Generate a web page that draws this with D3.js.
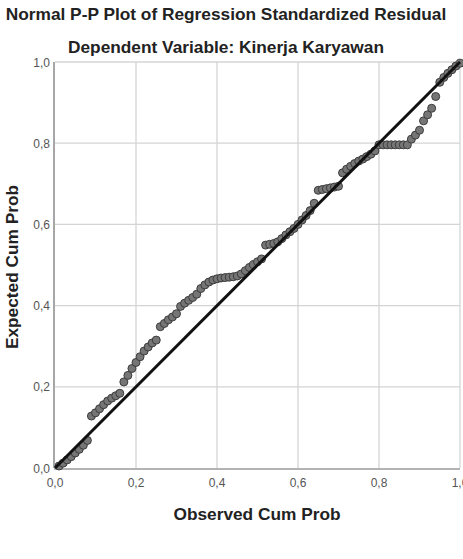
<!DOCTYPE html>
<html>
<head>
<meta charset="utf-8">
<script src="https://cdn.jsdelivr.net/npm/d3@7"></script>
<style>
  body { margin: 0; background: #fff; }
  svg { display: block; }
</style>
</head>
<body>
<div id="chart"></div>
<script>
// chart texts
let title = "Normal P-P Plot of Regression Standardized Residual"
let subtitle = "Dependent Variable: Kinerja Karyawan"
let xTitle = "Observed Cum Prob"
let yTitle = "Expected Cum Prob"
let tickValues = [0, 0.2, 0.4, 0.6, 0.8, 1.0]
let tickLabels = ["0,0", "0,2", "0,4", "0,6", "0,8", "1,0"]

// observed cumulative probability of each residual
let observed = [
  0.01, 0.02, 0.03, 0.04, 0.05, 0.06, 0.07, 0.08, 0.09, 0.10,
  0.11, 0.12, 0.13, 0.14, 0.15, 0.16, 0.17, 0.18, 0.19, 0.20,
  0.21, 0.22, 0.23, 0.24, 0.25, 0.26, 0.27, 0.28, 0.29, 0.30,
  0.31, 0.32, 0.33, 0.34, 0.35, 0.36, 0.37, 0.38, 0.39, 0.40,
  0.41, 0.42, 0.43, 0.44, 0.45, 0.46, 0.47, 0.48, 0.49, 0.50,
  0.51, 0.52, 0.53, 0.54, 0.55, 0.56, 0.57, 0.58, 0.59, 0.60,
  0.61, 0.62, 0.63, 0.64, 0.65, 0.66, 0.67, 0.68, 0.69, 0.70,
  0.71, 0.72, 0.73, 0.74, 0.75, 0.76, 0.77, 0.78, 0.79, 0.80,
  0.81, 0.82, 0.83, 0.84, 0.85, 0.86, 0.87, 0.88, 0.89, 0.90,
  0.91, 0.92, 0.93, 0.94, 0.95, 0.96, 0.97, 0.98, 0.99, 1.00
]

// expected cumulative probability
let expected = [
  0.005, 0.012, 0.020, 0.028, 0.037, 0.046, 0.056, 0.068, 0.128, 0.136,
  0.146, 0.156, 0.165, 0.172, 0.178, 0.184, 0.212, 0.228, 0.245, 0.260,
  0.274, 0.288, 0.298, 0.308, 0.315, 0.348, 0.356, 0.365, 0.372, 0.380,
  0.398, 0.406, 0.413, 0.420, 0.428, 0.442, 0.451, 0.458, 0.463, 0.466,
  0.468, 0.469, 0.470, 0.471, 0.473, 0.478, 0.486, 0.494, 0.501, 0.508,
  0.515, 0.549, 0.551, 0.553, 0.557, 0.565, 0.574, 0.582, 0.590, 0.600,
  0.611, 0.622, 0.634, 0.652, 0.684, 0.686, 0.688, 0.690, 0.692, 0.694,
  0.727, 0.736, 0.743, 0.750, 0.756, 0.761, 0.767, 0.773, 0.781, 0.796,
  0.796, 0.796, 0.796, 0.796, 0.796, 0.796, 0.796, 0.810, 0.820, 0.832,
  0.855, 0.870, 0.886, 0.915, 0.950, 0.962, 0.972, 0.981, 0.990, 0.997
]

let width = 463
let height = 559
let font = "Liberation Sans, Arial, sans-serif"

let svg = d3.select("#chart").append("svg")
    .attr("width", width)
    .attr("height", height)

let x = d3.scaleLinear().domain([0, 1]).range([55, 460])
let y = d3.scaleLinear().domain([0, 1]).range([468, 62])

// grid lines
svg.append("g").selectAll("line")
    .data(tickValues.slice(1))
    .enter().append("line")
    .attr("x1", d => x(d)).attr("x2", d => x(d))
    .attr("y1", y(0)).attr("y2", y(1))
    .attr("stroke", "#d4d4d4")
    .attr("stroke-width", 1.3)

svg.append("g").selectAll("line")
    .data(tickValues.slice(1))
    .enter().append("line")
    .attr("x1", x(0)).attr("x2", x(1))
    .attr("y1", d => y(d)).attr("y2", d => y(d))
    .attr("stroke", "#d4d4d4")
    .attr("stroke-width", 1.3)

// axis lines
svg.append("line")
    .attr("x1", x(0) - 1).attr("x2", x(0) - 1)
    .attr("y1", y(1)).attr("y2", y(0))
    .attr("stroke", "#8a8a8a")
    .attr("stroke-width", 1.5)

svg.append("line")
    .attr("x1", x(0) - 1).attr("x2", x(1))
    .attr("y1", y(0) + 1).attr("y2", y(0) + 1)
    .attr("stroke", "#9a9a9a")
    .attr("stroke-width", 1.5)

// tick labels
svg.append("g").selectAll("text")
    .data(tickValues)
    .enter().append("text")
    .attr("x", 50)
    .attr("y", d => y(d) + 4.5)
    .attr("text-anchor", "end")
    .style("font-family", font)
    .style("font-size", "12px")
    .style("fill", "#555")
    .text((d, i) => tickLabels[i])

svg.append("g").selectAll("text")
    .data(tickValues)
    .enter().append("text")
    .attr("x", d => x(d))
    .attr("y", 487)
    .attr("text-anchor", "middle")
    .style("font-family", font)
    .style("font-size", "12px")
    .style("fill", "#555")
    .text((d, i) => tickLabels[i])

// points
let points = observed.map((d, i) => ({ obs: d, exp: expected[i] }))

svg.append("g").selectAll("circle")
    .data(points)
    .enter().append("circle")
    .attr("cx", d => x(d.obs))
    .attr("cy", d => y(d.exp))
    .attr("r", 4)
    .attr("fill", "#767676")
    .attr("stroke", "#3c3c3c")
    .attr("stroke-width", 1)

// reference diagonal
svg.append("line")
    .attr("x1", x(0)).attr("y1", y(0))
    .attr("x2", x(1)).attr("y2", y(1))
    .attr("stroke", "#111")
    .attr("stroke-width", 3)

// titles
let bold = (sel) => sel
    .style("font-family", font)
    .style("font-weight", "bold")
    .style("font-size", "17.3px")
    .style("fill", "#222")

svg.append("text")
    .attr("x", 226)
    .attr("y", 20)
    .attr("text-anchor", "middle")
    .call(bold)
    .text(title)

svg.append("text")
    .attr("x", 226)
    .attr("y", 53)
    .attr("text-anchor", "middle")
    .call(bold)
    .text(subtitle)

svg.append("text")
    .attr("x", 257)
    .attr("y", 520)
    .attr("text-anchor", "middle")
    .call(bold)
    .text(xTitle)

svg.append("text")
    .attr("transform", "translate(18,267) rotate(-90)")
    .attr("text-anchor", "middle")
    .call(bold)
    .text(yTitle)
</script>
</body>
</html>
